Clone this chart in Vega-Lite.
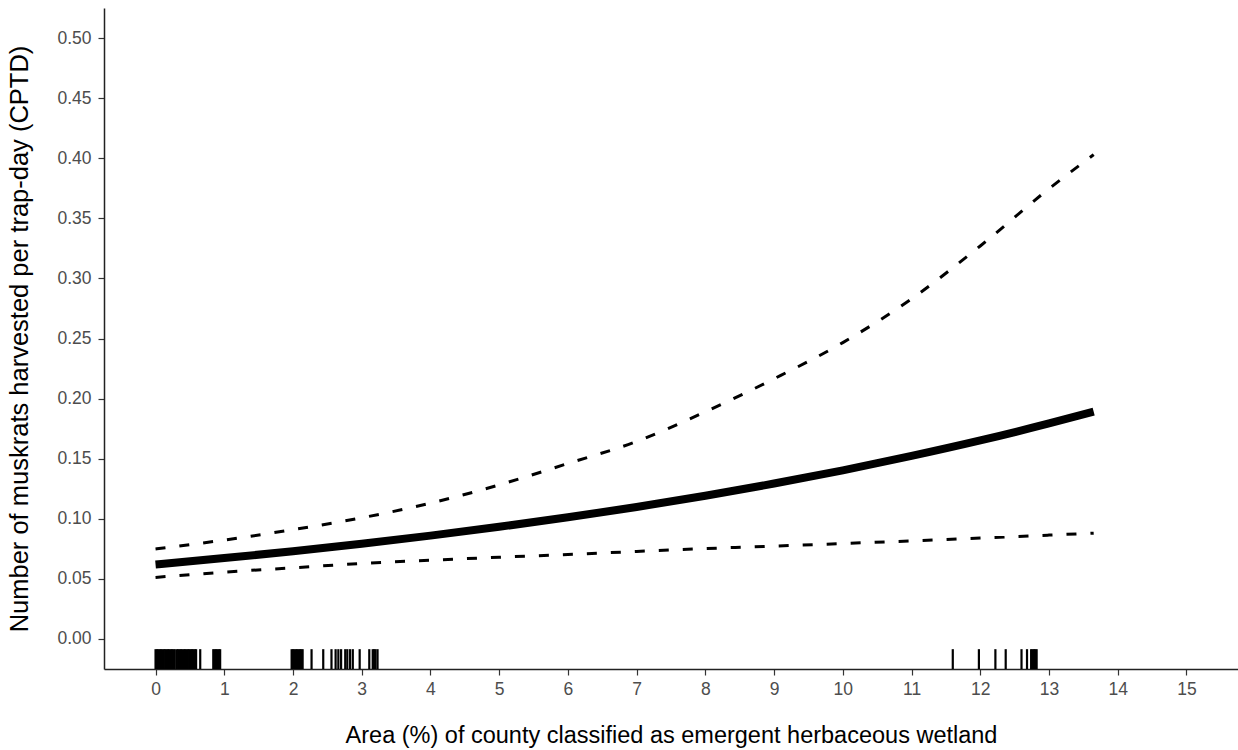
{
  "$schema": "https://vega.github.io/schema/vega-lite/v6.json",
  "autosize": "none",
  "width": 1134,
  "height": 661,
  "padding": {"left": 104, "top": 8, "right": 0, "bottom": 81},
  "background": "white",
  "config": {
    "view": {"stroke": null},
    "font": "Liberation Sans",
    "axis": {
      "grid": false,
      "domainColor": "#222222",
      "domainWidth": 1.5,
      "tickColor": "#333333",
      "tickWidth": 1.2,
      "tickSize": 6,
      "labelColor": "#4D4D4D",
      "labelFont": "Liberation Sans",
      "labelFontSize": 17.5,
      "titleFont": "Liberation Sans",
      "titleFontWeight": "normal",
      "titleColor": "#000000"
    }
  },
  "datasets": {
    "curve": [
      {"x": 0, "est": 0.0620, "lo": 0.0512, "hi": 0.0749},
      {"x": 1, "est": 0.0673, "lo": 0.0556, "hi": 0.0823},
      {"x": 2, "est": 0.0730, "lo": 0.0592, "hi": 0.0910},
      {"x": 3, "est": 0.0792, "lo": 0.0628, "hi": 0.1008},
      {"x": 4, "est": 0.0860, "lo": 0.0655, "hi": 0.1130},
      {"x": 5, "est": 0.0933, "lo": 0.0680, "hi": 0.1282},
      {"x": 6, "est": 0.1012, "lo": 0.0703, "hi": 0.1460},
      {"x": 7, "est": 0.1098, "lo": 0.0728, "hi": 0.1643},
      {"x": 8, "est": 0.1192, "lo": 0.0752, "hi": 0.1890},
      {"x": 9, "est": 0.1293, "lo": 0.0773, "hi": 0.2165},
      {"x": 10, "est": 0.1403, "lo": 0.0794, "hi": 0.2466},
      {"x": 11, "est": 0.1523, "lo": 0.0816, "hi": 0.2830},
      {"x": 12, "est": 0.1652, "lo": 0.0840, "hi": 0.3270},
      {"x": 13, "est": 0.1793, "lo": 0.0864, "hi": 0.3746},
      {"x": 13.65, "est": 0.1891, "lo": 0.0880, "hi": 0.4030}
    ],
    "rug": [
      {"x": 0.00}, {"x": 0.02}, {"x": 0.04}, {"x": 0.06}, {"x": 0.08}, {"x": 0.10}, {"x": 0.12}, {"x": 0.14},
      {"x": 0.16}, {"x": 0.18}, {"x": 0.20}, {"x": 0.22}, {"x": 0.24}, {"x": 0.26}, {"x": 0.28},
      {"x": 0.31}, {"x": 0.33}, {"x": 0.35}, {"x": 0.37}, {"x": 0.39}, {"x": 0.41}, {"x": 0.43}, {"x": 0.45},
      {"x": 0.47}, {"x": 0.49}, {"x": 0.51}, {"x": 0.53}, {"x": 0.55}, {"x": 0.57}, {"x": 0.59},
      {"x": 0.65},
      {"x": 0.84}, {"x": 0.86}, {"x": 0.88}, {"x": 0.90}, {"x": 0.92}, {"x": 0.94},
      {"x": 1.98}, {"x": 2.00}, {"x": 2.02}, {"x": 2.04}, {"x": 2.06}, {"x": 2.08}, {"x": 2.10}, {"x": 2.12}, {"x": 2.14},
      {"x": 2.27}, {"x": 2.44}, {"x": 2.56}, {"x": 2.62}, {"x": 2.66}, {"x": 2.70}, {"x": 2.76}, {"x": 2.79},
      {"x": 2.83}, {"x": 2.87}, {"x": 2.97}, {"x": 3.11}, {"x": 3.16}, {"x": 3.18}, {"x": 3.20}, {"x": 3.23},
      {"x": 11.60}, {"x": 11.98}, {"x": 12.22}, {"x": 12.37}, {"x": 12.60}, {"x": 12.68}, {"x": 12.74},
      {"x": 12.76}, {"x": 12.78}, {"x": 12.80}, {"x": 12.82}
    ]
  },
  "layer": [
    {
      "data": {"name": "rug"},
      "mark": {"type": "rule", "color": "black", "strokeWidth": 2.2},
      "encoding": {
        "x": {
          "field": "x", "type": "quantitative",
          "scale": {"domain": [-0.75, 15.75], "nice": false, "zero": false},
          "axis": {
            "values": [0,1,2,3,4,5,6,7,8,9,10,11,12,13,14,15],
            "format": "d",
            "title": "Area (%) of county classified as emergent herbaceous wetland",
            "titleFontSize": 23.5,
            "labelPadding": 5,
            "titlePadding": 26
          }
        },
        "y": {
          "datum": -0.025, "type": "quantitative",
          "scale": {"domain": [-0.025, 0.525], "nice": false, "zero": false},
          "axis": {
            "values": [0, 0.05, 0.1, 0.15, 0.2, 0.25, 0.3, 0.35, 0.4, 0.45, 0.5],
            "format": ".2f",
            "title": "Number of muskrats harvested per trap-day (CPTD)",
            "titleFontSize": 25.5,
            "labelPadding": 7,
            "titlePadding": 24
          }
        },
        "y2": {"datum": -0.0085}
      }
    },
    {
      "data": {"name": "curve"},
      "mark": {"type": "line", "color": "black", "strokeWidth": 3, "strokeDash": [10, 14], "interpolate": "monotone"},
      "encoding": {
        "x": {"field": "x", "type": "quantitative"},
        "y": {"field": "hi", "type": "quantitative"}
      }
    },
    {
      "data": {"name": "curve"},
      "mark": {"type": "line", "color": "black", "strokeWidth": 3, "strokeDash": [10, 14], "interpolate": "monotone"},
      "encoding": {
        "x": {"field": "x", "type": "quantitative"},
        "y": {"field": "lo", "type": "quantitative"}
      }
    },
    {
      "data": {"name": "curve"},
      "mark": {"type": "line", "color": "black", "strokeWidth": 8, "interpolate": "monotone"},
      "encoding": {
        "x": {"field": "x", "type": "quantitative"},
        "y": {"field": "est", "type": "quantitative"}
      }
    }
  ]
}
